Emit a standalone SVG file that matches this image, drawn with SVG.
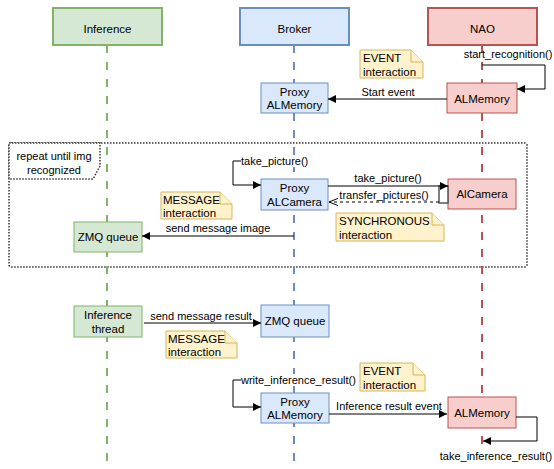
<svg xmlns="http://www.w3.org/2000/svg" width="554" height="469" viewBox="0 0 554 469">
<defs>
<style>
text{font-family:"Liberation Sans",Arial,Helvetica,sans-serif;fill:#000}
.n{font-size:11.5px;text-anchor:middle;dominant-baseline:central}
.h{font-size:11.5px;text-anchor:middle;dominant-baseline:central}
.l{font-size:11px;text-anchor:middle;dominant-baseline:central}
.ls{font-size:11px;text-anchor:start;dominant-baseline:central}
.nt{font-size:11.5px;text-anchor:start;dominant-baseline:central}
.g{fill:#d5e8d4;stroke:#82b366}
.b{fill:#dae8fc;stroke:#6c8ebf}
.r{fill:#f8cecc;stroke:#b85450}
.hd{stroke-width:2}
.bx{stroke-width:1}
.note{fill:#fff2cc;stroke:#d6b656;stroke-width:1}
.life{fill:none;stroke-width:2;stroke-dasharray:8 9}
.c{fill:none;stroke:#000;stroke-width:1}
.lb{fill:#fff}
</style>
<marker id="ah" viewBox="0 0 10 10" refX="10" refY="5" markerWidth="9" markerHeight="8" orient="auto" markerUnits="userSpaceOnUse"><path d="M0,0 L10,5 L0,10 Z" fill="#000"/></marker>
<marker id="oa" viewBox="0 0 10 10" refX="10" refY="5" markerWidth="9" markerHeight="9" orient="auto" markerUnits="userSpaceOnUse"><path d="M0,1 L10,5 L0,9" fill="none" stroke="#000" stroke-width="1.1"/></marker>
</defs>
<rect width="554" height="469" fill="#fff"/>

<g id="loop">
<rect x="9" y="143" width="518" height="124" rx="2" fill="none" stroke="#333" stroke-width="1.5" stroke-dasharray="1.5 1.5"/>
<path d="M9 143 H100 V166 L93 179 H9 Z" fill="#fff" stroke="#333" stroke-width="1.5" stroke-dasharray="1.5 1.5"/>
<text class="l" x="54" y="156">repeat until img</text>
<text class="l" x="54" y="170">recognized</text>
</g>

<g id="lifelines">
<line class="life" x1="107" y1="45" x2="107" y2="469" stroke="#82b366"/>
<line class="life" x1="294" y1="45" x2="294" y2="469" stroke="#6c8ebf"/>
<line class="life" x1="482" y1="45" x2="482" y2="469" stroke="#b85450"/>
</g>

<g id="inference">
<rect class="g hd" x="53" y="8" width="109" height="37"/>
<text class="h" x="107.5" y="28.5">Inference</text>
</g>
<g id="broker">
<rect class="b hd" x="240" y="8" width="109" height="37"/>
<text class="h" x="294.5" y="28.5">Broker</text>
</g>
<g id="nao">
<rect class="r hd" x="428" y="8" width="109" height="37"/>
<text class="h" x="482.5" y="28.5">NAO</text>
</g>

<g id="proxy-almemory-1">
<rect class="b bx" x="261" y="83" width="67" height="30"/>
<text class="n" x="294.5" y="91.5">Proxy</text>
<text class="n" x="294.5" y="105">ALMemory</text>
</g>
<g id="nao-almemory-1">
<rect class="r bx" x="447" y="83" width="70" height="30"/>
<text class="n" x="482" y="99">ALMemory</text>
</g>
<g id="proxy-alcamera">
<rect class="b bx" x="261" y="179" width="67" height="31"/>
<text class="n" x="294.5" y="188">Proxy</text>
<text class="n" x="294.5" y="202">ALCamera</text>
</g>
<g id="alcamera">
<rect class="r bx" x="448" y="179" width="68" height="30"/>
<text class="n" x="482" y="194">AlCamera</text>
</g>
<g id="zmq-inference">
<rect class="g bx" x="74" y="222" width="68" height="30"/>
<text class="n" x="108" y="237">ZMQ queue</text>
</g>
<g id="inference-thread">
<rect class="g bx" x="74" y="306" width="68" height="31"/>
<text class="n" x="108" y="315">Inference</text>
<text class="n" x="108" y="329">thread</text>
</g>
<g id="zmq-broker">
<rect class="b bx" x="261" y="305" width="68" height="32"/>
<text class="n" x="295" y="321">ZMQ queue</text>
</g>
<g id="proxy-almemory-2">
<rect class="b bx" x="261" y="393" width="68" height="30"/>
<text class="n" x="295" y="401.5">Proxy</text>
<text class="n" x="295" y="415">ALMemory</text>
</g>
<g id="nao-almemory-2">
<rect class="r bx" x="448" y="397" width="68" height="31"/>
<text class="n" x="482" y="412.5">ALMemory</text>
</g>

<g id="connectors">
<path class="c" d="M482 65 H545 V89 H517" marker-end="url(#ah)"/>
<text class="l" x="508" y="54">start_recognition()</text>

<path class="c" d="M447 99 H328" marker-end="url(#ah)"/>
<text class="l" x="388" y="92">Start event</text>

<path class="c" d="M241 161 H233 V185 H261" marker-end="url(#ah)"/>
<rect class="lb" x="241" y="155" width="66" height="12"/>
<text class="ls" x="241" y="161">take_picture()</text>

<rect x="439" y="186" width="9" height="17" fill="#fff" stroke="#555" stroke-width="1.5"/>
<path class="c" d="M328 186 H448" marker-end="url(#ah)"/>
<text class="l" x="388" y="178">take_picture()</text>

<path class="c" d="M439 202 H329" stroke-dasharray="3 3" marker-end="url(#oa)"/>
<text class="l" x="384" y="195">transfer_pictures()</text>

<path class="c" d="M294 236 H142" marker-end="url(#ah)"/>
<text class="l" x="218" y="228">send message image</text>

<path class="c" d="M144 323 H261" marker-end="url(#ah)"/>
<text class="l" x="201" y="316">send message result</text>

<path class="c" d="M241 380 H233 V407 H261" marker-end="url(#ah)"/>
<rect class="lb" x="241" y="374" width="112" height="12"/>
<text class="ls" x="241" y="380">write_inference_result()</text>

<path class="c" d="M329 414 H447" marker-end="url(#ah)"/>
<text class="l" x="389" y="406">Inference result event</text>

<path class="c" d="M516 417 H537 V441 H483" marker-end="url(#ah)"/>
<rect class="lb" x="442" y="450" width="108" height="12"/>
<text class="l" x="496" y="456">take_inference_result()</text>
</g>

<g id="note-event-1">
<path class="note" d="M360 50 H411 L423 62 V78 H360 Z"/>
<path class="note" d="M411 50 V62 H423" fill="none"/>
<text class="nt" x="363" y="58">EVENT</text>
<text class="nt" x="363" y="71.5">interaction</text>
</g>
<g id="note-message-1">
<path class="note" d="M161 192 H220 L232 204 V219 H161 Z"/>
<path class="note" d="M220 192 V204 H232" fill="none"/>
<text class="nt" x="163" y="200">MESSAGE</text>
<text class="nt" x="163" y="213">interaction</text>
</g>
<g id="note-synchronous">
<path class="note" d="M336 213 H432 L444 225 V241 H336 Z"/>
<path class="note" d="M432 213 V225 H444" fill="none"/>
<text class="nt" x="339" y="221">SYNCHRONOUS</text>
<text class="nt" x="339" y="235">interaction</text>
</g>
<g id="note-message-2">
<path class="note" d="M166 331 H225 L237 343 V358 H166 Z"/>
<path class="note" d="M225 331 V343 H237" fill="none"/>
<text class="nt" x="168" y="338.5">MESSAGE</text>
<text class="nt" x="168" y="352">interaction</text>
</g>
<g id="note-event-2">
<path class="note" d="M360 363 H413 L425 375 V391 H360 Z"/>
<path class="note" d="M413 363 V375 H425" fill="none"/>
<text class="nt" x="363" y="371">EVENT</text>
<text class="nt" x="363" y="385">interaction</text>
</g>
</svg>
